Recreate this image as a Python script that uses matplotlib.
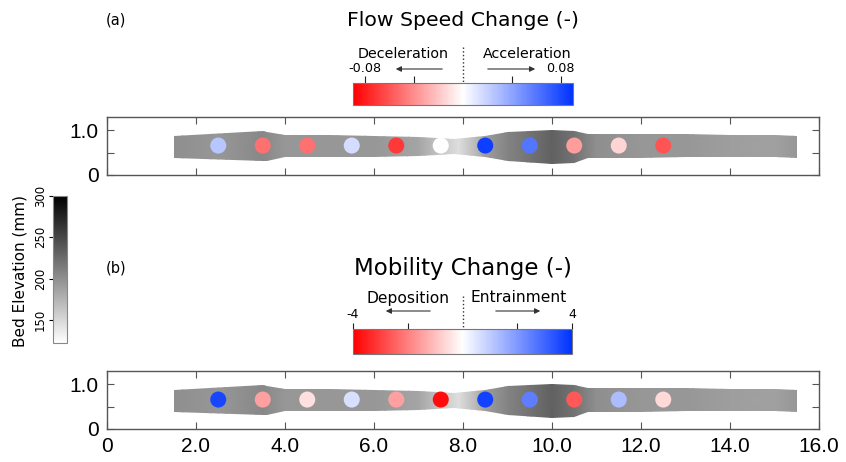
import numpy as np
import matplotlib
matplotlib.use("Agg")
import matplotlib.pyplot as plt
from matplotlib.colors import LinearSegmentedColormap, Normalize
from matplotlib.cm import ScalarMappable
from matplotlib.patches import Circle, Polygon, FancyArrowPatch
from matplotlib.lines import Line2D

# ---- data ----
station_x = [2.5, 3.5, 4.5, 5.5, 6.5, 7.5, 8.5, 9.5, 10.5, 11.5, 12.5]
station_y = 0.66
flow_speed_change = [0.025, -0.05, -0.05, 0.015, -0.07, 0.0, 0.085, 0.06, -0.035, -0.015, -0.06]
mobility_change = [3.6, -1.5, -0.5, 0.6, -1.5, -3.8, 3.7, 2.5, -2.6, 1.3, -0.6]

# channel outline (x, top bank, bottom bank), m
chan_x = [1.5, 3.5, 3.6, 4.0, 5.0, 6.0, 7.0, 7.8, 8.5, 9.0, 10.0, 10.5, 10.8, 12.0, 13.0, 14.0, 15.0, 15.5]
chan_top = [0.87, 0.98, 0.97, 0.89, 0.89, 0.88, 0.86, 0.80, 0.88, 0.96, 1.01, 0.99, 0.92, 0.93, 0.91, 0.90, 0.89, 0.88]
chan_bot = [0.39, 0.32, 0.32, 0.40, 0.40, 0.41, 0.43, 0.47, 0.40, 0.32, 0.24, 0.27, 0.38, 0.39, 0.40, 0.40, 0.40, 0.38]

# bed elevation along the channel, mm
elev_x = [1.5, 2.5, 3.5, 4.0, 5.0, 6.0, 7.0, 7.5, 7.9, 8.3, 8.5, 9.0, 9.5, 10.0, 10.5, 11.0, 12.0, 13.0, 14.0, 15.0, 15.5]
elev_mm = [200, 195, 205, 195, 195, 195, 185, 162, 145, 172, 190, 208, 220, 232, 220, 200, 195, 195, 190, 188, 195]

x_ticks = [0, 2, 4, 6, 8, 10, 12, 14, 16]
x_ticklabels = ["0", "2.0", "4.0", "6.0", "8.0", "10.0", "12.0", "14.0", "16.0"]
elev_ticks = [150, 200, 250, 300]

W, H = 846, 462


def fx(x):
    return x / W


def fy(y):
    return 1 - y / H


def rect(left, top, right, bottom):
    return [fx(left), fy(bottom), (right - left) / W, (bottom - top) / H]


cmap_div = LinearSegmentedColormap.from_list("rwb", ["#ff0000", "#ffffff", "#0033ff"])
cmap_bed = plt.get_cmap("gray_r")
norm_bed = Normalize(122, 300)

fig = plt.figure(figsize=(W / 100, H / 100), dpi=100)
spine_col = "#555555"


def draw_channel(ax, values, norm):
    X, Y = np.meshgrid(elev_x, [0.2, 1.05])
    C = np.vstack([elev_mm, elev_mm])
    mesh = ax.pcolormesh(X, Y, C, shading="gouraud", cmap=cmap_bed, norm=norm_bed)
    outline = list(zip(chan_x, chan_top)) + list(zip(chan_x[::-1], chan_bot[::-1]))
    clip = Polygon(outline, closed=True, transform=ax.transData, facecolor="none", edgecolor="none")
    ax.add_patch(clip)
    mesh.set_clip_path(clip)
    for xs, v in zip(station_x, values):
        ax.add_patch(Circle((xs, station_y), 0.18, facecolor=cmap_div(norm(v)), edgecolor="none", zorder=3))

    ax.set_xlim(0, 16)
    ax.set_ylim(0, 1.3)
    ax.set_xticks(x_ticks)
    ax.set_yticks([0, 0.5, 1.0], ["0", "", "1.0"])
    ax.tick_params(direction="in", top=True, right=True, length=5, color=spine_col,
                   labelsize=15, labelfontfamily="Liberation Sans", pad=6)
    for s in ax.spines.values():
        s.set_color(spine_col)
        s.set_linewidth(1.0)


# panel (a)
norm_a = Normalize(-0.09, 0.09)
ax_a = fig.add_axes(rect(107, 117, 819, 175))
draw_channel(ax_a, flow_speed_change, norm_a)
ax_a.set_xticklabels([])

# panel (b)
norm_b = Normalize(-4, 4)
ax_b = fig.add_axes(rect(107, 371, 819, 429))
draw_channel(ax_b, mobility_change, norm_b)
ax_b.set_xticklabels(x_ticklabels)


def div_colorbar(box, norm, ticks, labels, tick_len, label_size):
    cax = fig.add_axes(rect(*box))
    cb = fig.colorbar(ScalarMappable(norm=norm, cmap=cmap_div), cax=cax, orientation="horizontal")
    cb.set_ticks(ticks, labels=labels)
    cax.xaxis.set_ticks_position("top")
    cax.tick_params(direction="out", length=tick_len, width=0.8, color="#222222",
                    labelsize=label_size, pad=1)
    cb.outline.set_edgecolor("#777777")
    cb.outline.set_linewidth(0.8)
    return cax


div_colorbar((353, 83, 573, 105), norm_a, [-0.08, -0.04, 0.04, 0.08], ["-0.08", "", "", "0.08"], 5, 9.2)
div_colorbar((353, 329, 572, 354), norm_b, [-4, -2, 2, 4], ["-4", "", "", "4"], 4.5, 9)

# dotted centre lines
fig.add_artist(Line2D([fx(463), fx(463)], [fy(47), fy(83)], ls=":", lw=1.0, color="#333333"))
fig.add_artist(Line2D([fx(463), fx(463)], [fy(296), fy(329)], ls=":", lw=1.0, color="#333333"))

# arrows
arrow_kw = dict(arrowstyle="-|>", lw=0.8, color="#333333", mutation_scale=8)
for (x0, x1, y) in [(445, 393, 69), (485, 538, 69), (433, 383, 311), (493, 543, 311)]:
    fig.add_artist(FancyArrowPatch((fx(x0), fy(y)), (fx(x1), fy(y)),
                                   transform=fig.transFigure, **arrow_kw))

# texts
fig.text(fx(463), fy(20), "Flow Speed Change (-)", ha="center", va="center", fontsize=14.7)
fig.text(fx(403), fy(54), "Deceleration", ha="center", va="center", fontsize=10.3)
fig.text(fx(527), fy(54), "Acceleration", ha="center", va="center", fontsize=10.3)
fig.text(fx(463), fy(269), "Mobility Change (-)", ha="center", va="center", fontsize=16.5)
fig.text(fx(408), fy(298), "Deposition", ha="center", va="center", fontsize=11.2)
fig.text(fx(519), fy(298), "Entrainment", ha="center", va="center", fontsize=11.2)
fig.text(fx(116), fy(20), "(a)", ha="center", va="center", fontsize=10.5)
fig.text(fx(116), fy(268), "(b)", ha="center", va="center", fontsize=10.5)

# bed elevation colorbar
cax_g = fig.add_axes(rect(53, 196, 67, 343))
cbg = fig.colorbar(ScalarMappable(norm=norm_bed, cmap=cmap_bed), cax=cax_g, ticks=elev_ticks)
cax_g.yaxis.set_ticks_position("left")
cax_g.tick_params(direction="out", length=3, width=0.8, labelsize=8.5, pad=1.5)
for lbl in cax_g.get_yticklabels():
    lbl.set_rotation(90)
    lbl.set_va("center")
cbg.outline.set_edgecolor("#888888")
cbg.outline.set_linewidth(0.8)
fig.text(fx(20), fy(271), "Bed Elevation (mm)", rotation=90, ha="center", va="center", fontsize=11)

fig.savefig("out.png", dpi=100)
